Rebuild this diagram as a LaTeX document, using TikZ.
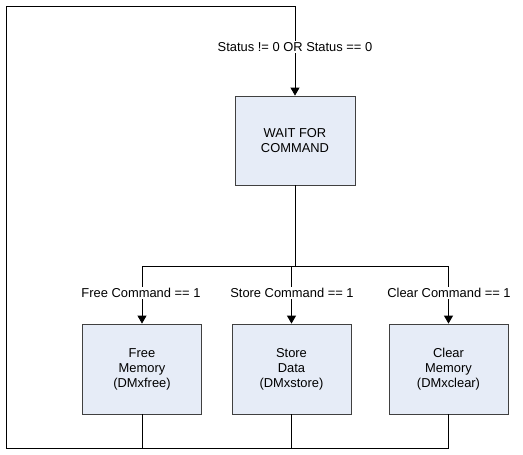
\documentclass[tikz,border=0pt]{standalone}
\usepackage{fontspec}
\setmainfont{Liberation Sans}
\usetikzlibrary{arrows.meta,positioning}
\definecolor{boxfill}{HTML}{E6ECF7}
\definecolor{boxline}{HTML}{404040}
\tikzset{
  statebox/.style={draw=boxline,fill=boxfill,line width=0.8pt,minimum width=119pt,
    minimum height=90pt,align=center,inner sep=0pt,font=\fontsize{12.9}{15}\selectfont},
  flow/.style={line width=0.8pt,-{Triangle[width=9pt,length=8pt]}},
  wire/.style={line width=0.8pt},
  cond/.style={fill=white,inner sep=1pt,font=\fontsize{12.9}{15}\selectfont}
}
\begin{document}
\begin{tikzpicture}[x=1pt,y=-1pt]
\useasboundingbox (0,0) rectangle (523,455);

\node[statebox,minimum width=120pt,minimum height=89pt] (wait) at (295,140.5) {WAIT FOR\\COMMAND};
\node[statebox] (free) at (142,369) {Free\\Memory\\(DMxfree)};
\node[statebox] (store) at (291.5,369) {Store\\Data\\(DMxstore)};
\node[statebox] (clear) at (448.5,369) {Clear\\Memory\\(DMxclear)};

\coordinate (tl) at (6,6);
\coordinate (tr) at (wait.north |- tl);
\coordinate (bl) at (6,448);
\coordinate (busfree) at (free.north |- 0,266);
\coordinate (busclear) at (clear.north |- 0,266);
\coordinate (busmid) at (wait.south |- 0,266);

% loop back to the wait state
\draw[wire] (free.south) -- (free.south |- bl) -- (bl);
\draw[wire] (store.south) -- (store.south |- bl);
\draw[wire] (clear.south) -- (clear.south |- bl) -- (free.south |- bl);
\draw[wire] (bl) -- (tl) -- (tr);
\draw[flow] (tr) -- (wait.north);
\node[cond] (stat) at (295,47) {Status != 0 OR Status == 0};

% branch on the command
\draw[wire] (wait.south) -- (busmid);
\draw[wire] (busfree) -- (busclear);
\draw[flow] (busfree) -- (free.north);
\draw[flow] (store.north |- busmid) -- (store.north);
\draw[flow] (busclear) -- (clear.north);
\node[cond] (cfree) at (141,293) {Free Command == 1};
\node[cond] (cstore) at (292,293) {Store Command == 1};
\node[cond] (cclear) at (449,293) {Clear Command == 1};
\end{tikzpicture}
\end{document}
